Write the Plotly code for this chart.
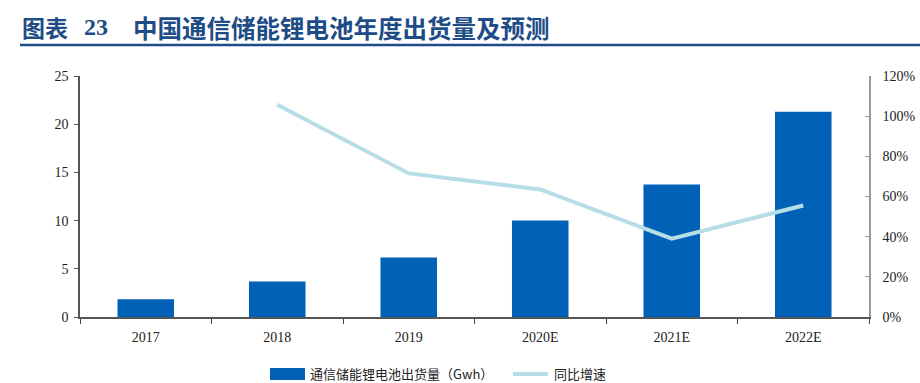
import plotly.graph_objects as go

categories = ["2017", "2018", "2019", "2020E", "2021E", "2022E"]
shipments = [1.85, 3.68, 6.17, 10.0, 13.74, 21.3]
growth = [None, 1.057, 0.715, 0.635, 0.39, 0.555]
left_ticks = [0, 5, 10, 15, 20, 25]
right_ticks = [0, 0.2, 0.4, 0.6, 0.8, 1.0, 1.2]
title_prefix = "图表"
title_number = "23"
title_text = "中国通信储能锂电池年度出货量及预测"
bar_name = "通信储能锂电池出货量（Gwh）"
line_name = "同比增速"

BAR_C = "#0061B7"
LINE_C = "#B7DDE6"
TITLE_C = "#1D4C86"
SERIF = "Liberation Serif, Times New Roman, serif"
CJK = "Noto Sans CJK SC, sans-serif"

W, H = 920, 383
L, R, T, B = 80, 51, 76, 66
pw, ph = W - L - R, H - T - B


def px_x(x):
    return (x - L) / pw


def px_y(y):
    return (H - B - y) / ph


fig = go.Figure()
fig.add_trace(go.Bar(x=categories, y=shipments, name=bar_name, marker_color=BAR_C,
                     marker_line_width=0, width=0.43, showlegend=False))
fig.add_trace(go.Scatter(x=categories, y=growth, name=line_name, yaxis="y2", mode="lines",
                         line=dict(color=LINE_C, width=4), showlegend=False,
                         connectgaps=False))

fig.update_layout(
    width=W, height=H,
    margin=dict(l=L, r=R, t=T, b=B),
    paper_bgcolor="white", plot_bgcolor="white",
    font=dict(family=SERIF, size=14, color="#222222"),
    xaxis=dict(showgrid=False, showline=True, linecolor="#555555", linewidth=1.5,
               ticks="outside", tickson="boundaries", ticklen=5, tickcolor="#444444",
               ticklabelstandoff=6, automargin=False,
               tickfont=dict(family=SERIF, size=14, color="#222222"), zeroline=False),
    yaxis=dict(range=[0, 25], tickvals=left_ticks, showgrid=False, showline=True,
               linecolor="#555555", linewidth=1.5, ticks="outside", ticklen=4,
               tickcolor="#555555", zeroline=False, ticklabelstandoff=3, automargin=False,
               tickfont=dict(family=SERIF, size=14, color="#222222")),
    yaxis2=dict(range=[0, 1.2], tickvals=right_ticks, tickformat=".0%", overlaying="y",
                side="right", showgrid=False, showline=True, linecolor="#999999",
                linewidth=1.5, ticks="inside", ticklen=4, tickcolor="#999999",
                zeroline=False, ticklabelstandoff=9, automargin=False,
                tickfont=dict(family=SERIF, size=14, color="#222222")),
    bargap=0.57,
)

# Title and underline
fig.add_annotation(text="<b>" + title_prefix + "</b>", x=px_x(20), y=px_y(27), xref="paper",
                   yref="paper", xanchor="left", yanchor="middle", showarrow=False,
                   font=dict(family=CJK, size=23, color=TITLE_C))
fig.add_annotation(text="<b>" + title_number + "</b>", x=px_x(82), y=px_y(27), xref="paper",
                   yref="paper", xanchor="left", yanchor="middle", showarrow=False,
                   font=dict(family=SERIF, size=24, color=TITLE_C))
fig.add_annotation(text="<b>" + title_text + "</b>", x=px_x(131), y=px_y(27), xref="paper",
                   yref="paper", xanchor="left", yanchor="middle", showarrow=False,
                   font=dict(family=CJK, size=24.5, color=TITLE_C))
fig.add_shape(type="line", xref="paper", yref="paper", x0=px_x(20), x1=px_x(920),
              y0=px_y(45), y1=px_y(45), line=dict(color=TITLE_C, width=2.5))

# Legend
fig.add_shape(type="rect", xref="paper", yref="paper", x0=px_x(270), x1=px_x(305),
              y0=px_y(380), y1=px_y(368), fillcolor=BAR_C, line=dict(width=0))
fig.add_annotation(text=bar_name, x=px_x(308), y=px_y(373), xref="paper", yref="paper",
                   xanchor="left", yanchor="middle", showarrow=False,
                   font=dict(family=CJK, size=13, color="#222222"))
fig.add_shape(type="line", xref="paper", yref="paper", x0=px_x(513), x1=px_x(548),
              y0=px_y(374), y1=px_y(374), line=dict(color=LINE_C, width=4))
fig.add_annotation(text=line_name, x=px_x(552), y=px_y(373), xref="paper", yref="paper",
                   xanchor="left", yanchor="middle", showarrow=False,
                   font=dict(family=CJK, size=13, color="#222222"))

fig.write_html("out.html", config={"displayModeBar": False},
               post_script="document.body.style.margin='0';document.body.style.padding='0';")
